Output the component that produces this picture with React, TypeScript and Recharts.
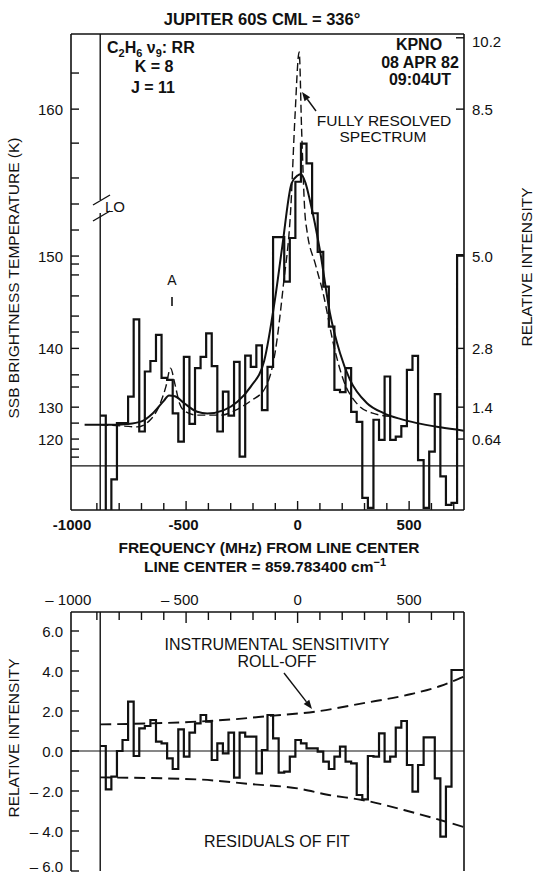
import React from 'react';
import { ComposedChart, Line, XAxis, YAxis, ReferenceLine } from 'recharts';

// frequency bins (MHz from line centre), left edge of each channel
const BIN_START = [
  -885, -860, -835, -810, -785, -760, -735, -710, -685, -660, -635, -610, -585,
  -560, -535, -510, -485, -460, -435, -410, -385, -360, -335, -310, -285, -260,
  -235, -210, -185, -160, -135, -110, -85, -60, -35, -10, 15, 40, 65, 90, 115,
  140, 165, 190, 215, 240, 265, 290, 315, 340, 365, 390, 415, 440, 465, 490,
  515, 540, 565, 590, 615, 640, 665, 690, 715,
];
const BIN_END = 745;

// observed spectrum, relative intensity
const SPECTRUM = [
  1.2, -1.3, -0.32, 1.02, 1.02, 1.65, 3.49, 0.82, 2.25, 2.5, 3.12, 2.1, 2.05,
  1.25, 0.58, 2.6, 1.0, 2.33, 2.6, 3.16, 2.38, 0.82, 1.77, 1.2, 2.48, 0.22,
  2.63, 2.36, 2.87, 1.33, 2.36, 5.45, 5.45, 4.39, 5.43, 6.77, 7.68, 7.21, 6.02,
  5.1, 4.27, 3.32, 1.81, 1.76, 2.33, 1.29, 1.05, -0.76, -1.0, 1.1, 0.62, 2.13,
  0.62, 0.7, 0.95, 2.29, 2.62, 0.14, -1.0, 0.34, 1.71, -0.25, -0.93, -0.88, 5.02,
];

// residuals of fit
const RESIDUALS = [
  0.25, -1.92, -1.28, 0.0, 0.55, 2.47, -0.25, 1.13, 1.25, 1.55, 0.47, 0.38,
  -0.37, -0.9, 1.08, -0.28, 0.92, 1.38, 1.8, 1.47, -0.45, 0.38, -0.12, 0.92,
  -1.33, 0.92, 0.72, 0.72, -1.12, 0.05, 1.8, 0.63, -1.08, -1.03, -0.28, 0.55,
  0.38, 0.13, 0.13, -0.03, -0.53, -0.9, -0.28, 0.22, -0.53, -0.62, -2.2, -2.42,
  -0.25, -0.28, 0.88, -0.53, -0.28, 1.17, 1.5, -0.7, -2.03, -0.7, 0.68, 0.68,
  -1.37, -4.28, -1.78, 4.05, 4.05,
];

// fitted (convolved) model
const FIT_FREQ = [-955, -850, -760, -700, -650, -600, -577, -550, -510, -450, -405, -330, -270, -210, -150, -102, -69, -27, 0, 15, 35, 55, 100, 145, 190, 235, 310, 385, 460, 535, 640, 745];
const FIT_VALUE = [0.98, 0.98, 1.0, 1.06, 1.25, 1.55, 1.68, 1.66, 1.5, 1.29, 1.25, 1.33, 1.53, 1.89, 2.5, 3.95, 5.22, 6.73, 6.92, 6.95, 6.75, 6.33, 5.14, 3.64, 2.69, 2.05, 1.5, 1.26, 1.12, 1.02, 0.92, 0.84];

// fully resolved model
const RESOLVED_FREQ = [-885, -780, -720, -660, -615, -590, -570, -550, -530, -505, -450, -345, -270, -210, -146, -101, -64, -30, -12, 7, 18, 33, 42, 80, 115, 160, 205, 265, 340, 420];
const RESOLVED_VALUE = [0.98, 0.95, 0.93, 1.1, 1.5, 1.9, 2.33, 1.95, 1.5, 1.3, 1.21, 1.21, 1.35, 1.55, 1.85, 2.7, 4.3, 6.2, 8.3, 9.86, 8.0, 6.0, 5.6, 4.8, 4.1, 2.92, 2.05, 1.49, 1.25, 1.18];

// instrumental sensitivity roll-off envelope
const UPPER_FREQ = [-885, -600, -450, -250, -130, 80, 290, 510, 640, 745];
const UPPER_VALUE = [1.33, 1.4, 1.47, 1.62, 1.75, 1.97, 2.38, 2.85, 3.25, 3.72];
const LOWER_FREQ = [-885, -450, -215, 0, 140, 290, 510, 745];
const LOWER_VALUE = [-1.32, -1.42, -1.65, -1.87, -2.2, -2.45, -3.05, -3.8];

// axes
const FREQ_TICKS = [-1000, -900, -800, -700, -600, -500, -400, -300, -200, -100, 0, 100, 200, 300, 400, 500, 600, 700];
const FREQ_LABELS = [-1000, -500, 0, 500];
const INTENSITY_TICKS = [0.64, 1.4, 2.8, 5.0, 8.5, 10.2];
const TEMP_LABELS = [120, 130, 140, 150, 160];
const TEMP_LABEL_AT = [0.64, 1.4, 2.8, 5.0, 8.5];
const TEMP_MINOR_AT = [0.21, 0.4, 1.02, 1.88, 2.17, 3.19, 3.57, 4.05, 4.55, 4.81, 5.62, 6.24, 6.86, 7.69, 9.36];
const RESID_TICKS = [-6, -5, -4, -3, -2, -1, 0, 1, 2, 3, 4, 5, 6];
const RESID_LABELS = [-6, -4, -2, 0, 2, 4, 6];

const FONT = '"Liberation Sans", Arial, Helvetica, sans-serif';
const INK = '#111';
const X_DOMAIN: [number, number] = [-1016, 746];
const TOP_Y: [number, number] = [-1.05, 10.29];
const BOT_Y: [number, number] = [-6.0, 6.95];

const steps = (values: number[]) => {
  const pts = BIN_START.map((f, i) => ({ f, v: values[i] }));
  pts.push({ f: BIN_END, v: values[values.length - 1] });
  return pts;
};
const curve = (freqs: number[], vals: number[]) => freqs.map((f, i) => ({ f, v: vals[i] }));

const TEMP_TICKS = [...TEMP_MINOR_AT, ...TEMP_LABEL_AT].sort((a, b) => a - b);

const halfDigits = (v: number, fs: number) => (String(Math.abs(v)).length * 0.556 * fs) / 2;

const FreqTickBottom = (p: any) => {
  const { x, y, payload } = p;
  const v = payload.value;
  const major = v % 500 === 0;
  return (
    <g>
      {v > -1000 && <line x1={x} x2={x} y1={y} y2={y - (major ? 9 : 7)} stroke={INK} strokeWidth={1.4} />}
      {FREQ_LABELS.includes(v) && (
        <text x={x + halfDigits(v, 15)} y={y + 20} textAnchor="end" fontFamily={FONT} fontSize={15} fontWeight="bold" fill={INK}>
          {v < 0 ? '-' + Math.abs(v) : v}
        </text>
      )}
    </g>
  );
};

const FreqTickTop = (p: any) => {
  const { x, y, payload } = p;
  const v = payload.value;
  const major = v % 500 === 0;
  return (
    <g>
      {v > -1000 && <line x1={x} x2={x} y1={y} y2={y + (major ? 11 : 8)} stroke={INK} strokeWidth={1.4} />}
      {FREQ_LABELS.includes(v) && (
        <text x={x + halfDigits(v, 15)} y={y - 7} textAnchor="end" fontFamily={FONT} fontSize={15} fill={INK}>
          {v < 0 ? '\u2013 ' + Math.abs(v) : v}
        </text>
      )}
    </g>
  );
};

const TempTick = (p: any) => {
  const { x, y, payload } = p;
  const idx = TEMP_LABEL_AT.indexOf(payload.value);
  return (
    <g>
      <line x1={x} x2={x + 8} y1={y} y2={y} stroke={INK} strokeWidth={1.4} />
      {idx >= 0 && (
        <text x={x - 8} y={y + 5.5} textAnchor="end" fontFamily={FONT} fontSize={15} fill={INK}>
          {TEMP_LABELS[idx]}
        </text>
      )}
    </g>
  );
};

const IntensityTick = (p: any) => {
  const { x, y, payload } = p;
  const v = payload.value;
  return (
    <g>
      <line x1={x} x2={x - 8} y1={y} y2={y} stroke={INK} strokeWidth={1.4} />
      <text x={x + 8} y={y + (v === 10.2 ? 9 : 5.5)} textAnchor="start" fontFamily={FONT} fontSize={15} fill={INK}>
        {v === 5 ? '5.0' : String(v)}
      </text>
    </g>
  );
};

const ResidTick = (p: any) => {
  const { x, y, payload } = p;
  const v = payload.value;
  return (
    <g>
      <line x1={x} x2={x + 8} y1={y} y2={y} stroke={INK} strokeWidth={1.4} />
      {RESID_LABELS.includes(v) && (
        <text x={x - 8} y={y + (v === -6 ? 1 : 5.5)} textAnchor="end" fontFamily={FONT} fontSize={15} fill={INK}>
          {(v < 0 ? '\u2013 ' : '') + Math.abs(v).toFixed(1)}
        </text>
      )}
    </g>
  );
};

const axisStroke = { stroke: INK, strokeWidth: 1.6 };

// plot area of both panels: x 71..464
function SpectrumPanel() {
  return (
    <ComposedChart width={534} height={580} margin={{ top: 24, right: 40, bottom: 40, left: 41 }}>
      <XAxis xAxisId="b" type="number" dataKey="f" domain={X_DOMAIN} ticks={FREQ_TICKS} interval={0} height={30}
        tickSize={0} tickMargin={0} tickLine={false} axisLine={axisStroke} tick={(p: any) => <FreqTickBottom {...p} />} allowDataOverflow />
      <XAxis xAxisId="t" orientation="top" type="number" dataKey="f" domain={X_DOMAIN} height={10}
        tick={false} tickLine={false} axisLine={axisStroke} allowDataOverflow />
      <YAxis yAxisId="l" orientation="left" type="number" domain={TOP_Y} ticks={TEMP_TICKS} interval={0} width={30}
        tickSize={0} tickMargin={0} tickLine={false} axisLine={axisStroke} tick={(p: any) => <TempTick {...p} />} allowDataOverflow />
      <YAxis yAxisId="r" orientation="right" type="number" domain={TOP_Y} ticks={INTENSITY_TICKS} interval={0} width={30}
        tickSize={0} tickMargin={0} tickLine={false} axisLine={axisStroke} tick={(p: any) => <IntensityTick {...p} />} allowDataOverflow />

      <ReferenceLine xAxisId="b" yAxisId="r" y={0} stroke={INK} strokeWidth={1.2} />
      <ReferenceLine xAxisId="b" yAxisId="r" x={-885} stroke={INK} strokeWidth={1.4} />

      <Line xAxisId="b" yAxisId="r" data={steps(SPECTRUM)} dataKey="v" type="stepAfter" dot={false}
        stroke={INK} strokeWidth={2.2} isAnimationActive={false} />
      <Line xAxisId="b" yAxisId="r" data={curve(FIT_FREQ, FIT_VALUE)} dataKey="v" type="monotone" dot={false}
        stroke={INK} strokeWidth={2} isAnimationActive={false} />
      <Line xAxisId="b" yAxisId="r" data={curve(RESOLVED_FREQ, RESOLVED_VALUE)} dataKey="v" type="monotone" dot={false}
        stroke={INK} strokeWidth={1.4} strokeDasharray="8 4" isAnimationActive={false} />
    </ComposedChart>
  );
}

function ResidualPanel() {
  return (
    <ComposedChart width={534} height={294} margin={{ top: 2, right: 40, bottom: 3, left: 41 }}>
      <XAxis xAxisId="t" orientation="top" type="number" dataKey="f" domain={X_DOMAIN} ticks={FREQ_TICKS} interval={0} height={30}
        tickSize={0} tickMargin={0} tickLine={false} axisLine={axisStroke} tick={(p: any) => <FreqTickTop {...p} />} allowDataOverflow />
      <YAxis yAxisId="l" orientation="left" type="number" domain={BOT_Y} ticks={RESID_TICKS} interval={0} width={30}
        tickSize={0} tickMargin={0} tickLine={false} axisLine={axisStroke} tick={(p: any) => <ResidTick {...p} />} allowDataOverflow />
      <YAxis yAxisId="r" orientation="right" type="number" domain={BOT_Y} width={30}
        tick={false} tickLine={false} axisLine={axisStroke} allowDataOverflow />

      <ReferenceLine xAxisId="t" yAxisId="l" y={0} stroke={INK} strokeWidth={1.2} />
      <ReferenceLine xAxisId="t" yAxisId="l" x={-885} stroke={INK} strokeWidth={1.4} />

      <Line xAxisId="t" yAxisId="l" data={curve(UPPER_FREQ, UPPER_VALUE)} dataKey="v" type="monotone" dot={false}
        stroke={INK} strokeWidth={1.9} strokeDasharray="11 6" isAnimationActive={false} />
      <Line xAxisId="t" yAxisId="l" data={curve(LOWER_FREQ, LOWER_VALUE)} dataKey="v" type="monotone" dot={false}
        stroke={INK} strokeWidth={1.9} strokeDasharray="11 6" isAnimationActive={false} />
      <Line xAxisId="t" yAxisId="l" data={steps(RESIDUALS)} dataKey="v" type="stepAfter" dot={false}
        stroke={INK} strokeWidth={2.2} isAnimationActive={false} />
    </ComposedChart>
  );
}

const Arrow = ({ x1, y1, x2, y2 }: { x1: number; y1: number; x2: number; y2: number }) => {
  const a = Math.atan2(y2 - y1, x2 - x1);
  const L = 9, W = 3.5;
  const bx = x2 - L * Math.cos(a), by = y2 - L * Math.sin(a);
  const px = -Math.sin(a) * W, py = Math.cos(a) * W;
  return (
    <g>
      <line x1={x1} y1={y1} x2={bx} y2={by} stroke={INK} strokeWidth={1.4} />
      <polygon points={`${x2},${y2} ${bx + px},${by + py} ${bx - px},${by - py}`} fill={INK} />
    </g>
  );
};

function Annotations() {
  const t = { fontFamily: FONT, fill: INK };
  return (
    <svg width={534} height={874} style={{ position: 'absolute', left: 0, top: 0, pointerEvents: 'none' }}>
      <text x={262} y={25} textAnchor="middle" fontSize={16.5} fontWeight="bold" {...t}>JUPITER 60S CML = 336°</text>

      <text x={107} y={53} fontSize={16} fontWeight="bold" {...t}>
        C<tspan fontSize={11} dy={4}>2</tspan><tspan dy={-4}>H</tspan><tspan fontSize={11} dy={4}>6</tspan>
        <tspan dy={-4}> ν</tspan><tspan fontSize={11} dy={4}>9</tspan><tspan dy={-4}>: RR</tspan>
      </text>
      <text x={154} y={72} textAnchor="middle" fontSize={16} fontWeight="bold" {...t}>K = 8</text>
      <text x={153} y={93} textAnchor="middle" fontSize={16} fontWeight="bold" {...t}>J = 11</text>

      <text x={419} y={50} textAnchor="middle" fontSize={16} fontWeight="bold" {...t}>KPNO</text>
      <text x={420} y={68} textAnchor="middle" fontSize={16} fontWeight="bold" {...t}>08 APR 82</text>
      <text x={420} y={85} textAnchor="middle" fontSize={16} fontWeight="bold" {...t}>09:04UT</text>

      <text x={384} y={126} textAnchor="middle" fontSize={15.5} {...t}>FULLY RESOLVED</text>
      <text x={383} y={142} textAnchor="middle" fontSize={15.5} {...t}>SPECTRUM</text>
      <Arrow x1={316} y1={111} x2={302} y2={92} />

      <text x={172} y={285} textAnchor="middle" fontSize={14} {...t}>A</text>
      <line x1={172} x2={172} y1={297} y2={306} stroke={INK} strokeWidth={1.6} />

      <rect x={96} y={200} width={8} height={13} fill="#fff" />
      <line x1={93} y1={205} x2={110} y2={195} stroke={INK} strokeWidth={1.4} />
      <line x1={93} y1={221} x2={110} y2={211} stroke={INK} strokeWidth={1.4} />
      <text x={105} y={212} fontSize={15} {...t}>LO</text>

      <text x={19} y={278} textAnchor="middle" fontSize={15.5} transform="rotate(-90 19 278)" {...t}>SSB BRIGHTNESS TEMPERATURE (K)</text>
      <text x={532} y={267} textAnchor="middle" fontSize={15.5} transform="rotate(-90 532 267)" {...t}>RELATIVE INTENSITY</text>

      <text x={269} y={553} textAnchor="middle" fontSize={15.5} fontWeight="bold" {...t}>FREQUENCY (MHz) FROM LINE CENTER</text>
      <text x={265} y={572} textAnchor="middle" fontSize={15.5} fontWeight="bold" {...t}>
        LINE CENTER = 859.783400 cm<tspan fontSize={11} dy={-6}>{'\u22121'}</tspan>
      </text>

      <text x={277} y={650} textAnchor="middle" fontSize={16} {...t}>INSTRUMENTAL SENSITIVITY</text>
      <text x={277} y={667} textAnchor="middle" fontSize={16} {...t}>ROLL-OFF</text>
      <Arrow x1={284} y1={673} x2={312} y2={709} />
      <text x={277} y={847} textAnchor="middle" fontSize={16} {...t}>RESIDUALS OF FIT</text>

      <text x={19} y={738} textAnchor="middle" fontSize={15.5} transform="rotate(-90 19 738)" {...t}>RELATIVE INTENSITY</text>
    </svg>
  );
}

export default function App() {
  return (
    <div style={{ position: 'absolute', left: 0, top: 0, width: 534, height: 874, background: '#fff', overflow: 'hidden' }}>
      <div style={{ position: 'absolute', left: 0, top: 0 }}>
        <SpectrumPanel />
      </div>
      <div style={{ position: 'absolute', left: 0, top: 580 }}>
        <ResidualPanel />
      </div>
      <Annotations />
    </div>
  );
}
